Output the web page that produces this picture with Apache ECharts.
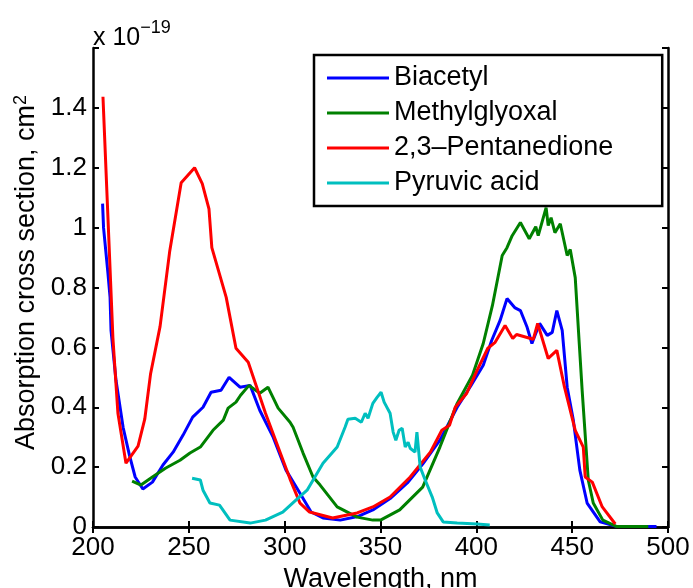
<!DOCTYPE html>
<html>
<head>
<meta charset="utf-8">
<script src="https://cdn.jsdelivr.net/npm/echarts@6/dist/echarts.min.js"></script>
<style>
  html, body { margin: 0; padding: 0; background: #fff; }
  #chart { width: 693px; height: 588px; }
</style>
</head>
<body>
<div id="chart"></div>
<script>
(function () {

    'use strict';

    // wavelength (nm), cross section (x 1e-19 cm2)
    var biacetyl = [
        [205, 1.08], [205.5, 1.0], [207.8, 0.847], [208.9, 0.767], [209.4, 0.657],
        [212, 0.49], [215.7, 0.333], [219, 0.24], [222, 0.167], [226, 0.127],
        [231, 0.15], [236.5, 0.207], [241.8, 0.25], [247, 0.307], [252, 0.367],
        [257.4, 0.4], [261.6, 0.45], [266.8, 0.457], [271, 0.5], [276.7, 0.467],
        [282, 0.473], [287, 0.39], [294, 0.3], [300.7, 0.19], [308, 0.113],
        [313.8, 0.05], [320, 0.03], [329, 0.023], [338, 0.035], [346, 0.057],
        [355, 0.095], [364, 0.147], [372, 0.21], [381, 0.29], [390, 0.4],
        [397, 0.47], [403.6, 0.54], [408, 0.623], [412.4, 0.69], [416, 0.763],
        [420, 0.733], [423, 0.723], [426.5, 0.667], [429, 0.613], [433, 0.68],
        [437, 0.64], [439.6, 0.65], [442, 0.723], [444.8, 0.657], [447.4, 0.467],
        [450.6, 0.357], [454, 0.19], [457.8, 0.08], [464.6, 0.017], [473, 0.002],
        [494, 0.002]
    ];

    var methylglyoxal = [
        [220.4, 0.153], [225, 0.14], [231, 0.167], [238, 0.197], [245.4, 0.223],
        [250.6, 0.247], [256, 0.267], [262.6, 0.323], [268, 0.357], [270.5, 0.397],
        [274.6, 0.417], [277, 0.44], [281.4, 0.473], [287, 0.447], [291.3, 0.467],
        [296.6, 0.397], [302.8, 0.35], [304.4, 0.333], [309.6, 0.247], [314.8, 0.167],
        [318.5, 0.14], [327.4, 0.067], [337.8, 0.033], [346, 0.023], [350, 0.023],
        [360, 0.057], [372, 0.133], [381, 0.267], [390, 0.413], [398, 0.507],
        [403.6, 0.613], [408.4, 0.74], [413.5, 0.907], [416, 0.933], [418.7, 0.973],
        [423, 1.017], [427.6, 0.963], [431, 1.003], [432.3, 0.973], [436.4, 1.067],
        [437.5, 1.007], [439, 1.033], [441, 0.983], [443.8, 1.013], [447.4, 0.907],
        [449, 0.927], [451.6, 0.833], [453.7, 0.613], [455.2, 0.457], [458.4, 0.157],
        [461, 0.08], [466, 0.023], [473, 0.002], [489.7, 0.002]
    ];

    var pentanedione = [
        [205.2, 1.437], [210.4, 0.63], [213, 0.38], [217.2, 0.213], [223.5, 0.27],
        [227, 0.36], [230, 0.51], [235, 0.67], [240, 0.92], [246, 1.15],
        [253, 1.2], [257, 1.147], [260.5, 1.063], [262, 0.933], [269.5, 0.767],
        [274.6, 0.597], [281, 0.55], [290, 0.38], [302.8, 0.16], [308, 0.08],
        [313, 0.05], [325, 0.03], [337.8, 0.047], [346, 0.067], [355, 0.1],
        [365.5, 0.167], [376, 0.25], [382, 0.323], [386, 0.34], [389, 0.4],
        [395, 0.447], [400.4, 0.523], [406, 0.597], [409.8, 0.617], [415, 0.673],
        [419, 0.63], [421, 0.643], [429.7, 0.627], [432, 0.68], [437.5, 0.563],
        [442, 0.59], [446, 0.467], [451.6, 0.323], [455.8, 0.267], [456.8, 0.167],
        [460.5, 0.15], [465.7, 0.067], [472.5, 0.01]
    ];

    var pyruvic = [
        [251.7, 0.163], [256, 0.157], [257.4, 0.123], [261, 0.08], [266, 0.073],
        [271.5, 0.023], [282, 0.013], [290, 0.023], [299, 0.05], [305, 0.085],
        [311.7, 0.123], [320, 0.213], [327.4, 0.267], [331.5, 0.333], [333, 0.36],
        [336.8, 0.363], [340, 0.35], [342, 0.38], [343.5, 0.363], [346, 0.413],
        [348.2, 0.433], [350.3, 0.45], [351.9, 0.417], [355, 0.38], [356.6, 0.317],
        [358, 0.29], [359.7, 0.323], [361.3, 0.33], [362.9, 0.267], [364.4, 0.283],
        [365.5, 0.263], [368, 0.25], [369, 0.317], [370.7, 0.2], [373.3, 0.157],
        [377, 0.1], [379.6, 0.047], [382.7, 0.017], [390, 0.013], [400.4, 0.01],
        [407, 0.007]
    ];

    var seriesNames = ['Biacetyl', 'Methylglyoxal', '2,3\u2013Pentanedione', 'Pyruvic acid'];
    var seriesColors = ['#0000ff', '#008000', '#ff0000', '#00bfbf'];
    var seriesData = [biacetyl, methylglyoxal, pentanedione, pyruvic];

    var FONT = 'Liberation Sans';
    var myChart = echarts.init(document.getElementById('chart'));

    var axisLine = { lineStyle: { color: '#000', width: 2.5 } };
    var tickIn = { inside: true, length: 6, lineStyle: { color: '#000', width: 2 } };

    var option = {
        animation: false,
        backgroundColor: '#fff',
        title: {
            text: '{a|x 10}{b|\u221219}',
            left: 88,
            top: 7,
            textStyle: {
                fontWeight: 'normal',
                rich: {
                    a: { fontFamily: FONT, fontSize: 25, fontWeight: 'normal', color: '#000', padding: [14, 0, 0, 0] },
                    b: { fontFamily: FONT, fontSize: 18, fontWeight: 'normal', color: '#000', padding: [0, 0, 6, 0] }
                }
            }
        },
        legend: {
            data: seriesNames,
            orient: 'vertical',
            left: 314,
            top: 55,
            padding: [9, 49, 9, 13],
            itemWidth: 62,
            itemHeight: 3,
            itemGap: 7,
            icon: 'rect',
            borderColor: '#000',
            borderWidth: 2.5,
            backgroundColor: '#fff',
            textStyle: { fontFamily: FONT, fontSize: 27, color: '#000', lineHeight: 28 }
        },
        grid: { left: 93, top: 48, right: 25, bottom: 61, outerBoundsMode: 'none' },
        xAxis: [{
            type: 'value',
            min: 200,
            max: 500,
            interval: 50,
            name: 'Wavelength, nm',
            nameLocation: 'middle',
            nameGap: 38,
            nameTextStyle: { fontFamily: FONT, fontSize: 27, color: '#000' },
            axisLine: axisLine,
            axisTick: tickIn,
            axisLabel: { fontFamily: FONT, fontSize: 26, color: '#000', margin: 8 },
            splitLine: { show: false }
        }, {
            type: 'value',
            position: 'top',
            min: 200,
            max: 500,
            interval: 50,
            axisLine: axisLine,
            axisTick: tickIn,
            axisLabel: { show: false },
            splitLine: { show: false }
        }],
        yAxis: [{
            type: 'value',
            min: 0,
            max: 1.6,
            interval: 0.2,
            name: 'Absorption cross section, cm{s|2}',
            nameLocation: 'middle',
            nameRotate: 90,
            nameGap: 44,
            nameTextStyle: {
                fontFamily: FONT, fontSize: 27, color: '#000',
                padding: [0, 0, 0, 30],
                rich: { s: { fontFamily: FONT, fontSize: 18, color: '#000', padding: [0, 0, 10, 0] } }
            },
            axisLine: axisLine,
            axisTick: tickIn,
            axisLabel: {
                fontFamily: FONT, fontSize: 26, color: '#000', margin: 6,
                formatter: function (v) {
                    if (v > 1.5) return '';
                    return v === 0 ? '0' : (Math.round(v * 10) / 10).toString();
                }
            },
            splitLine: { show: false }
        }, {
            type: 'value',
            position: 'right',
            min: 0,
            max: 1.6,
            interval: 0.2,
            axisLine: axisLine,
            axisTick: tickIn,
            axisLabel: { show: false },
            splitLine: { show: false }
        }],
        series: seriesNames.map(function (name, i) {
            return {
                name: name,
                type: 'line',
                data: seriesData[i],
                showSymbol: false,
                symbol: 'none',
                color: seriesColors[i],
                lineStyle: { color: seriesColors[i], width: 3 },
                z: 2 + i
            };
        })
    };

    myChart.setOption(option);
})();
</script>
</body>
</html>
